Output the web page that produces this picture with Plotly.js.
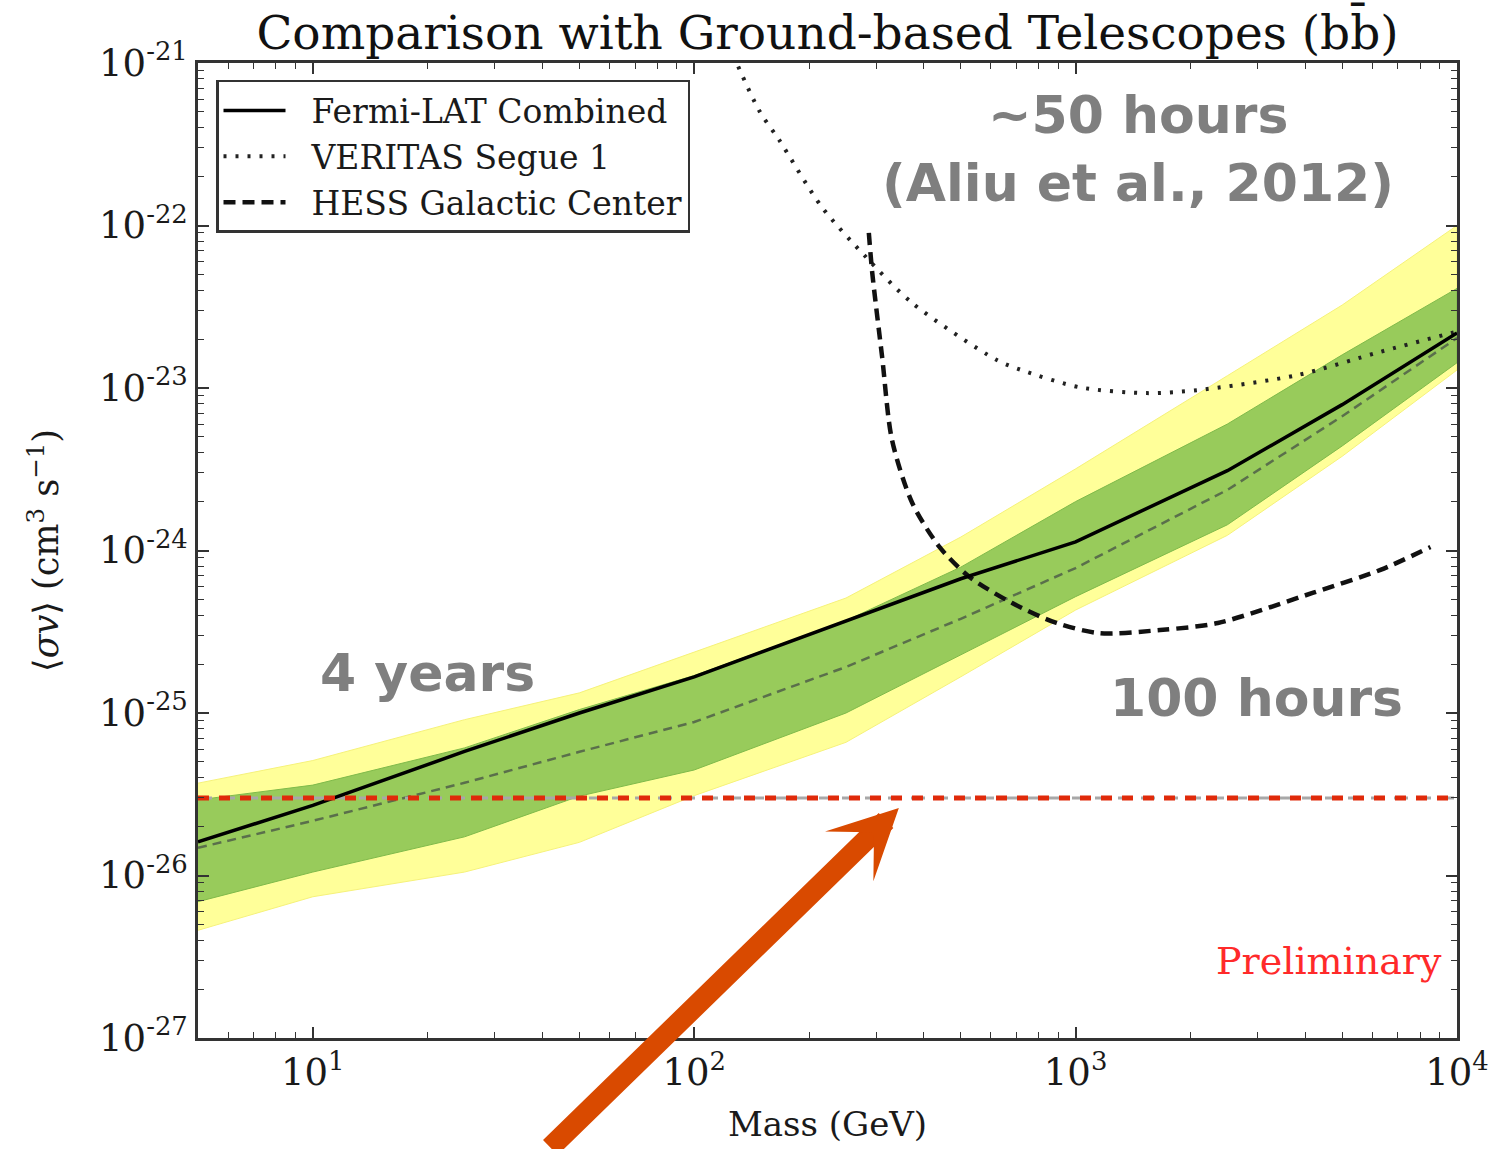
<!DOCTYPE html>
<html>
<head>
<meta charset="utf-8">
<script src="https://cdn.plot.ly/plotly-3.0.1.min.js"></script>
<style>
  html, body { margin: 0; padding: 0; background: #ffffff; }
  #chart { width: 1497px; height: 1149px; }
</style>
</head>
<body>
<div id="chart"></div>
<script>
// Dark matter mass grid (GeV) for the combined dwarf-spheroidal limit
const mass = [5, 10, 25, 50, 100, 250, 500, 1000, 2500, 5000, 10000];

// Fermi-LAT combined upper limit on <sigma v> (cm^3 s^-1), b-bbar channel
const fermiLimit = [1.61e-26, 2.7e-26, 5.8e-26, 1.0e-25, 1.67e-25, 3.7e-25, 6.7e-25, 1.13e-24, 3.1e-24, 7.9e-24, 2.18e-23];

// Expected sensitivity: median and 68% / 95% containment bands
const expMedian = [1.48e-26, 2.17e-26, 3.72e-26, 5.77e-26, 8.8e-26, 1.92e-25, 3.8e-25, 7.8e-25, 2.36e-24, 6.7e-24, 2.03e-23];
const band68Hi = [2.92e-26, 3.6e-26, 6.1e-26, 1.05e-25, 1.7e-25, 3.7e-25, 7.9e-25, 2.0e-24, 6.0e-24, 1.6e-23, 4.1e-23];
const band68Lo = [6.9e-27, 1.05e-26, 1.73e-26, 3.08e-26, 4.46e-26, 1.0e-25, 2.28e-25, 5.2e-25, 1.44e-24, 4.4e-24, 1.43e-23];
const band95Hi = [3.7e-26, 5.1e-26, 9.1e-26, 1.33e-25, 2.37e-25, 5.1e-25, 1.21e-24, 3.18e-24, 1.19e-23, 3.24e-23, 1.0e-22];
const band95Lo = [4.6e-27, 7.4e-27, 1.05e-26, 1.6e-26, 3.1e-26, 6.6e-26, 1.67e-25, 4.3e-25, 1.24e-24, 3.8e-24, 1.29e-23];

// VERITAS Segue 1 limit
const veritasMass = [123, 148, 167, 216, 282, 373, 620, 721, 1025, 1538, 2080, 3810, 6300, 9800];
const veritasSigv = [1.3e-21, 5.1e-22, 3.36e-22, 1.3e-22, 6.4e-23, 3.33e-23, 1.49e-23, 1.29e-23, 1.01e-23, 9.3e-24, 9.7e-24, 1.2e-23, 1.67e-23, 2.2e-23];

// HESS Galactic Center limit
const hessMass = [287, 293, 311, 330, 373, 440, 526, 682, 891, 1156, 1665, 2360, 4200, 6300, 8520];
const hessSigv = [9.0e-23, 5.1e-23, 1.55e-23, 4.8e-24, 1.96e-24, 1.05e-24, 6.9e-25, 4.75e-25, 3.58e-25, 3.1e-25, 3.24e-25, 3.58e-25, 5.5e-25, 7.6e-25, 1.05e-24];

// Canonical thermal relic cross section
const relicMass = [5, 10000];
const relicSigv = [3e-26, 3e-26];

// Arrow pointing at the thermal relic line
const arrowTipMass = 344;
const arrowTipSigv = 2.6e-26;

// Axis ticks
const xTickVals = [10, 100, 1000, 10000];
const xTickText = ['10<sup>1</sup>', '10<sup>2</sup>', '10<sup>3</sup>', '10<sup>4</sup>'];
const yTickVals = [1e-27, 1e-26, 1e-25, 1e-24, 1e-23, 1e-22, 1e-21];
const yTickText = ['10<sup>-27</sup>', '10<sup>-26</sup>', '10<sup>-25</sup>', '10<sup>-24</sup>', '10<sup>-23</sup>', '10<sup>-22</sup>', '10<sup>-21</sup>'];

const serif = 'DejaVu Serif, Liberation Serif, serif';
const sans = 'DejaVu Sans, Liberation Sans, sans-serif';
const gap = '\u00A0\u00A0';

function bandPolygon(hi, lo) {
  return {
    x: mass.concat(mass.slice().reverse()),
    y: hi.concat(lo.slice().reverse())
  };
}

const p95 = bandPolygon(band95Hi, band95Lo);
const p68 = bandPolygon(band68Hi, band68Lo);

const traces = [
  {
    x: p95.x, y: p95.y, type: 'scatter', mode: 'lines', fill: 'toself',
    fillcolor: '#ffff99', line: {color: '#f6f27a', width: 1},
    showlegend: false, hoverinfo: 'skip'
  },
  {
    x: p68.x, y: p68.y, type: 'scatter', mode: 'lines', fill: 'toself',
    fillcolor: '#98cb5b', line: {color: '#7fba4a', width: 1},
    showlegend: false, hoverinfo: 'skip'
  },
  {
    x: mass, y: expMedian, type: 'scatter', mode: 'lines',
    line: {color: 'rgba(70,80,70,0.75)', width: 2.5, dash: '9px,6px'},
    showlegend: false
  },
  {
    x: relicMass, y: relicSigv, type: 'scatter', mode: 'lines',
    line: {color: '#a8a8a8', width: 3, dash: '14px,9px'},
    showlegend: false
  },
  {
    x: veritasMass, y: veritasSigv, type: 'scatter', mode: 'lines',
    name: gap + 'VERITAS Segue 1', legendrank: 2,
    line: {color: '#222222', width: 4, dash: '3px,9px', shape: 'spline', smoothing: 0.8}
  },
  {
    x: hessMass, y: hessSigv, type: 'scatter', mode: 'lines',
    name: gap + 'HESS Galactic Center', legendrank: 3,
    line: {color: '#111111', width: 4.5, dash: '12px,7px', shape: 'spline', smoothing: 0.8}
  },
  {
    x: mass, y: fermiLimit, type: 'scatter', mode: 'lines',
    name: gap + 'Fermi-LAT Combined', legendrank: 1,
    line: {color: '#000000', width: 3.5}
  },
  {
    x: relicMass, y: relicSigv, type: 'scatter', mode: 'lines',
    line: {color: '#e02a0a', width: 5, dash: '11px,10px'},
    showlegend: false
  }
];

const axisCommon = {
  type: 'log',
  showgrid: false,
  zeroline: false,
  showline: true,
  linecolor: '#333333',
  linewidth: 2.5,
  mirror: 'allticks',
  ticks: 'inside',
  ticklen: 11,
  tickwidth: 1.5,
  tickcolor: '#333333',
  tickmode: 'array',
  tickfont: {family: serif, size: 37, color: '#1a1a1a'},
  minor: {ticks: 'inside', ticklen: 6, tickwidth: 1.2, tickcolor: '#333333', dtick: 'D1', showgrid: false}
};

const grayBold = {family: sans, size: 52, color: '#7f7f7f', weight: 'bold'};

const layout = {
  width: 1497,
  height: 1149,
  paper_bgcolor: '#ffffff',
  plot_bgcolor: '#ffffff',
  margin: {l: 198, r: 40, t: 63, b: 111},
  title: {
    text: 'Comparison with Ground-based Telescopes (bb\u0304)',
    font: {family: serif, size: 47, color: '#111111'},
    x: 0.5, xref: 'paper', xanchor: 'center',
    y: 0.972, yref: 'container', yanchor: 'middle'
  },
  xaxis: Object.assign({}, axisCommon, {
    range: [Math.log10(5), 4],
    tickvals: xTickVals,
    ticktext: xTickText,
    title: {text: 'Mass (GeV)', font: {family: serif, size: 34, color: '#1a1a1a'}, standoff: 20}
  }),
  yaxis: Object.assign({}, axisCommon, {
    range: [-27, -21],
    tickvals: yTickVals,
    ticktext: yTickText,
    title: {text: '\u27E8<i>\u03C3v</i>\u27E9 (cm<sup>3</sup> s<sup>\u22121</sup>)', font: {family: serif, size: 35, color: '#1a1a1a'}, standoff: 30}
  }),
  legend: {
    x: 0.0143, y: 0.9826, xanchor: 'left', yanchor: 'top',
    bgcolor: '#ffffff', bordercolor: '#333333', borderwidth: 2.5,
    font: {family: serif, size: 33, color: '#1a1a1a'},
    itemwidth: 62,
    traceorder: 'normal'
  },
  annotations: [
    {xref: 'paper', yref: 'paper', x: 0.7466, y: 0.9467, text: '~50 hours', showarrow: false,
     xanchor: 'center', yanchor: 'middle', font: grayBold},
    {xref: 'paper', yref: 'paper', x: 0.7466, y: 0.8769, text: '(Aliu et al., 2012)', showarrow: false,
     xanchor: 'center', yanchor: 'middle', font: grayBold},
    {xref: 'paper', yref: 'paper', x: 0.1819, y: 0.3744, text: '4 years', showarrow: false,
     xanchor: 'center', yanchor: 'middle', font: grayBold},
    {xref: 'paper', yref: 'paper', x: 0.8404, y: 0.3487, text: '100 hours', showarrow: false,
     xanchor: 'center', yanchor: 'middle', font: grayBold},
    {xref: 'paper', yref: 'paper', x: 0.898, y: 0.079, text: 'Preliminary', showarrow: false,
     xanchor: 'center', yanchor: 'middle', font: {family: serif, size: 38, color: '#ff2a2a'}},
    {xref: 'x', yref: 'y', x: Math.log10(arrowTipMass), y: Math.log10(arrowTipSigv), text: '',
     showarrow: true, arrowhead: 3, arrowsize: 0.55, arrowwidth: 21, arrowcolor: '#d94a00',
     ax: -350, ay: 345, standoff: 0}
  ]
};

Plotly.newPlot('chart', traces, layout, {displayModeBar: false, responsive: false});
</script>
</body>
</html>
